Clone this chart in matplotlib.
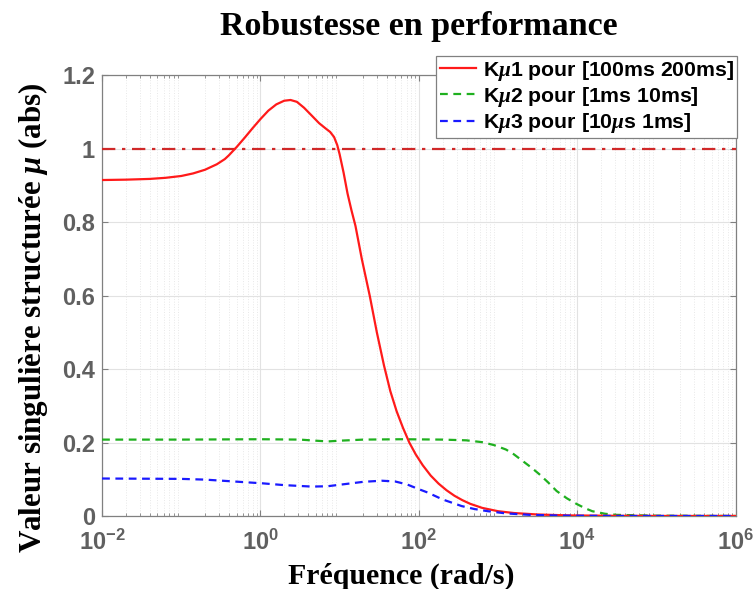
import numpy as np
import matplotlib
matplotlib.use("Agg")
from matplotlib import pyplot as plt

# valeurs (log10 de la frequence, mu)
logw_k1 = [-2.0, -1.7, -1.4, -1.2, -1.0, -0.85, -0.7, -0.55, -0.45, -0.4, -0.3, -0.2,
           -0.1, 0.0, 0.1, 0.2, 0.3, 0.38, 0.46, 0.55, 0.65, 0.74, 0.82, 0.88, 0.93,
           0.97, 1.0, 1.05, 1.1, 1.15, 1.2, 1.28, 1.38, 1.47, 1.56, 1.64, 1.72, 1.8,
           1.88, 1.96, 2.05, 2.15, 2.25, 2.35, 2.45, 2.55, 2.65, 2.8, 3.0, 3.2, 3.5,
           3.9, 4.5, 5.2, 6.0]
mu_k1 = [0.915, 0.916, 0.918, 0.921, 0.926, 0.933, 0.943, 0.958, 0.972, 0.982, 1.005, 1.030,
         1.056, 1.081, 1.104, 1.121, 1.131, 1.133, 1.128, 1.112, 1.090, 1.070, 1.056, 1.046,
         1.032, 1.010, 0.985, 0.935, 0.878, 0.832, 0.790, 0.700, 0.600, 0.500, 0.410, 0.340,
         0.285, 0.240, 0.200, 0.168, 0.138, 0.110, 0.088, 0.070, 0.055, 0.043, 0.033, 0.022,
         0.013, 0.008, 0.004, 0.0015, 0.0004, 0.0, 0.0]

logw_k2 = [-2.0, -1.0, 0.0, 0.5, 0.7, 0.85, 1.0, 1.3, 1.8, 2.3, 2.6, 2.8, 2.95, 3.1,
           3.2, 3.31, 3.42, 3.52, 3.63, 3.74, 3.87, 3.99, 4.1, 4.19, 4.35, 4.5, 5.0, 6.0]
mu_k2 = [0.208, 0.208, 0.209, 0.208, 0.205, 0.203, 0.205, 0.208, 0.209, 0.208, 0.206, 0.201,
         0.193, 0.181, 0.168, 0.150, 0.132, 0.114, 0.092, 0.068, 0.048, 0.033, 0.021, 0.013,
         0.006, 0.003, 0.0008, 0.0]

logw_k3 = [-2.0, -1.0, -0.7, -0.41, -0.2, 0.02, 0.3, 0.65, 0.85, 1.06, 1.3, 1.53, 1.7,
           1.85, 2.0, 2.11, 2.3, 2.54, 2.7, 2.87, 3.1, 3.4, 3.8, 4.5, 6.0]
mu_k3 = [0.102, 0.101, 0.099, 0.095, 0.092, 0.089, 0.084, 0.080, 0.081, 0.0866, 0.093, 0.096,
         0.094, 0.086, 0.073, 0.064, 0.045, 0.027, 0.019, 0.013, 0.007, 0.003, 0.001, 0.0, 0.0]

labels = [r"K$\mathit{\mu}$1 pour [100ms 200ms]",
          r"K$\mathit{\mu}$2 pour [1ms 10ms]",
          r"K$\mathit{\mu}$3 pour [10$\mathit{\mu}$s 1ms]"]
xticks = [1e-2, 1e0, 1e2, 1e4, 1e6]
xticklabels = [r"$10^{-2}$", r"$10^{0}$", r"$10^{2}$", r"$10^{4}$", r"$10^{6}$"]
yticks = [0, 0.2, 0.4, 0.6, 0.8, 1, 1.2]
yticklabels = ["0", "0.2", "0.4", "0.6", "0.8", "1", "1.2"]

plt.rcParams['mathtext.fontset'] = 'custom'
plt.rcParams['mathtext.default'] = 'bf'
plt.rcParams['mathtext.bf'] = 'Liberation Sans:bold'
plt.rcParams['mathtext.rm'] = 'Liberation Sans:bold'
plt.rcParams['mathtext.it'] = 'Liberation Serif:italic:bold'

fig = plt.figure(figsize=(7.56, 5.89), dpi=100)
ax = fig.add_axes([0.135, 0.124, 0.838, 0.748])

ax.plot(10 ** np.array(logw_k1), mu_k1, color='#ff1a1a', lw=1.6, label=labels[0], zorder=4)
ax.plot(10 ** np.array(logw_k2), mu_k2, color='#1fb01f', lw=1.6, ls=(0, (3.5, 2.5)), label=labels[1], zorder=3)
ax.plot(10 ** np.array(logw_k3), mu_k3, color='#1a1aff', lw=1.6, ls=(0, (3.5, 2.5)), label=labels[2], zorder=5)
ax.axhline(1, color='#d02828', lw=1.6, ls=(0, (6, 3, 1.5, 3)), zorder=3)

ax.set_xscale('log')
ax.set_xlim(1e-2, 1e6)
ax.set_ylim(0, 1.2)
ax.set_xticks(xticks)
ax.set_xticklabels(xticklabels)
ax.set_xticks([m * 10.0 ** e for e in range(-2, 6) for m in range(2, 10)], minor=True)
ax.set_xticklabels([], minor=True)
ax.set_yticks(yticks)
ax.set_yticklabels(yticklabels)

ax.grid(True, which='major', color='#e2e2e2', lw=0.8)
ax.grid(True, which='minor', axis='x', color='#e8e8e8', lw=0.7, ls=':')
ax.set_axisbelow(True)

for s in ax.spines.values():
    s.set_color('#808080')
    s.set_linewidth(0.9)
ax.tick_params(which='both', direction='in', colors='#808080', top=True, right=True)
ax.tick_params(which='major', length=4)
ax.tick_params(which='minor', length=2.5)
for lab in ax.get_xticklabels() + ax.get_yticklabels():
    lab.set_color('#606060')
    lab.set_fontfamily('Liberation Sans')
    lab.set_fontweight('bold')
    lab.set_fontsize(17)
ax.tick_params(axis='x', pad=10)
ax.tick_params(axis='y', pad=5)

ax.set_title('Robustesse en performance', fontfamily='Liberation Serif', fontweight='bold',
             fontsize=24.5, pad=29)
ax.set_xlabel('Fréquence (rad/s)', fontfamily='Liberation Serif', fontweight='bold', fontsize=21.5)
ax.xaxis.set_label_coords(0.472, -0.105)
ax.set_ylabel(r'Valeur singulière structurée $\mathit{\mu}$ (abs)', fontfamily='Liberation Serif',
              fontweight='bold', fontsize=22.3)
ax.yaxis.set_label_coords(-0.082, 0.45)

leg = ax.legend(loc='upper right', bbox_to_anchor=(1.003, 1.045), fancybox=False, framealpha=1,
                edgecolor='#808080', borderpad=0.15, handlelength=1.7, handletextpad=0.35,
                labelspacing=0.1, borderaxespad=0,
                prop={'family': 'Liberation Sans', 'weight': 'bold', 'size': 15.3})
leg.get_frame().set_linewidth(0.9)
leg.set_zorder(10)

fig.savefig('out.png', dpi=100)
